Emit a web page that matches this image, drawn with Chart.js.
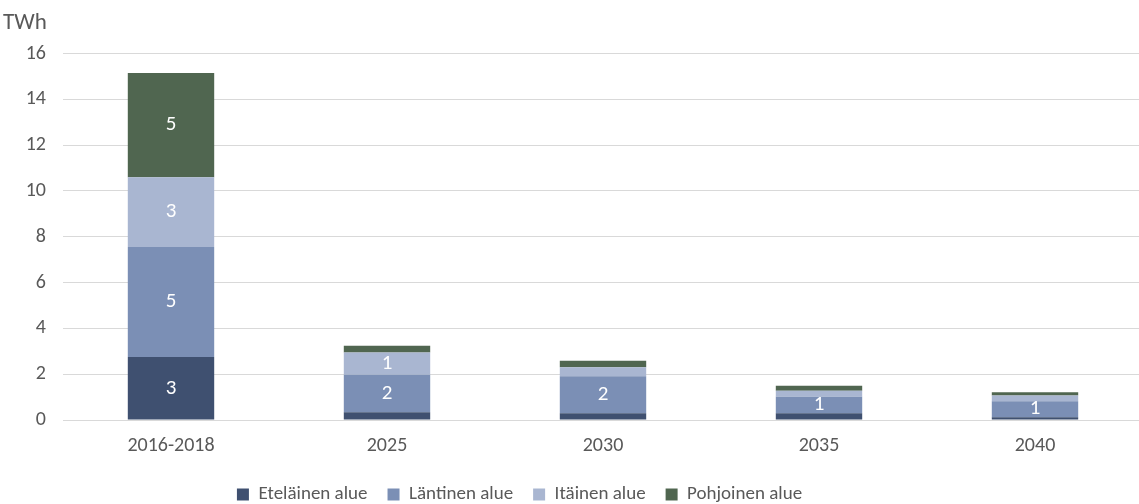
<!DOCTYPE html>
<html>
<head>
<meta charset="utf-8">
<script src="https://cdn.jsdelivr.net/npm/chart.js@4.4.1/dist/chart.umd.min.js"></script>
<style>
  html, body { margin: 0; padding: 0; background: #fff; overflow: hidden; }
  #wrap { width: 1139px; height: 504px; overflow: hidden; }
</style>
</head>
<body>
<div id="wrap"><canvas id="chart" width="1143" height="504"></canvas></div>
<script>
const kategoriat = ['2016-2018', '2025', '2030', '2035', '2040'];
const alueet = ['Eteläinen alue', 'Läntinen alue', 'Itäinen alue', 'Pohjoinen alue'];
const etelainen = [2.75, 0.34, 0.30, 0.30, 0.12];
const lantinen = [4.80, 1.64, 1.61, 0.72, 0.70];
const itainen = [3.05, 0.97, 0.39, 0.26, 0.25];
const pohjoinen = [4.55, 0.29, 0.29, 0.22, 0.14];
const varit = ['#3f5070', '#7b8fb5', '#a9b6d1', '#506650'];

const fontti = "Carlito, 'Liberation Sans Narrow', 'Liberation Sans', sans-serif";
const harmaa = '#595959';

// arvot segmenttien keskelle, pienet jätetään pois
const arvoTekstit = {
  id: 'arvoTekstit',
  afterDatasetsDraw(chart) {
    const ctx = chart.ctx;
    ctx.save();
    ctx.fillStyle = '#ffffff';
    ctx.font = '21px ' + fontti;
    ctx.textAlign = 'center';
    ctx.textBaseline = 'middle';
    chart.data.datasets.forEach((ds, i) => {
      chart.getDatasetMeta(i).data.forEach((bar, j) => {
        const v = ds.data[j];
        if (v < 0.5) return;
        const y = (bar.y + bar.base) / 2;
        ctx.fillText(Math.round(v), bar.x, y);
      });
    });
    ctx.restore();
  }
};

// selite vasemmalle ja alas, otsikko pieni sisennys
const siirrot = {
  id: 'siirrot',
  afterLayout(chart) {
    const l = chart.legend;
    l.left -= 52; l.right -= 52;
    l.top += 10; l.bottom += 10;
    const t = chart.titleBlock;
    t.left += 3; t.right += 3;
  }
};

const sarjat = [etelainen, lantinen, itainen, pohjoinen];

new Chart(document.getElementById('chart'), {
  type: 'bar',
  data: {
    labels: kategoriat,
    datasets: sarjat.map((d, i) => ({
      label: alueet[i],
      data: d,
      backgroundColor: varit[i],
      borderWidth: 0,
      barPercentage: 0.4,
      categoryPercentage: 1
    }))
  },
  options: {
    responsive: false,
    animation: false,
    layout: { padding: 0 },
    scales: {
      x: {
        stacked: true,
        grid: { display: false, drawTicks: false },
        border: { color: '#d9d9d9', width: 1 },
        ticks: { color: harmaa, font: { family: fontti, size: 20 }, padding: 14 },
        afterFit(scale) { scale.height = 35; }
      },
      y: {
        stacked: true,
        min: 0,
        max: 16,
        grid: { color: '#d9d9d9', lineWidth: 1, drawTicks: false },
        border: { display: false },
        ticks: { stepSize: 2, color: harmaa, font: { family: fontti, size: 20 }, padding: 17 },
        afterFit(scale) { scale.width = 63; }
      }
    },
    plugins: {
      title: {
        display: true,
        text: 'TWh',
        align: 'start',
        color: harmaa,
        font: { family: fontti, size: 23, weight: 'normal' },
        padding: { top: 9, bottom: 17 }
      },
      legend: {
        position: 'bottom',
        labels: {
          color: harmaa,
          font: { family: fontti, size: 19 },
          boxWidth: 12,
          boxHeight: 12,
          padding: 20
        }
      },
      tooltip: { enabled: false }
    }
  },
  plugins: [arvoTekstit, siirrot]
});
</script>
</body>
</html>
